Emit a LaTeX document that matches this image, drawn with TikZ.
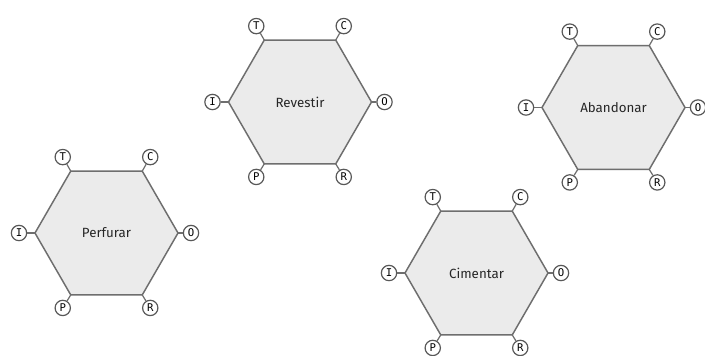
\documentclass[tikz,border=0pt]{standalone}
\usepackage{fontspec}
\setmainfont{Fira Sans}
\newfontfamily\portfont{DejaVu Sans Mono}
\usetikzlibrary{shapes.geometric}

\definecolor{edgegray}{HTML}{6E6E6E}
\definecolor{fillgray}{HTML}{EBEBEB}
\definecolor{textgray}{HTML}{262626}

\tikzset{
  activity/.style={regular polygon, regular polygon sides=6, minimum size=143*0.75pt,
    inner sep=0pt, outer sep=0pt, draw=edgegray, fill=fillgray, line width=1.1pt,
    text=textgray, font=\fontsize{10}{12}\selectfont},
  port/.style={circle, draw=edgegray!80!black, fill=white, line width=0.9pt, inner sep=0pt,
    minimum size=11.5pt, text=black, font=\portfont\fontsize{8}{9}\selectfont},
  portline/.style={draw=edgegray, line width=0.9pt}
}

% an activity hexagon with its six ports T, C, O, R, P, I
\newcommand\activity[3]{%
  \node[activity] (#1) at (#2) {#3};
  \node[port] (#1-T) at ([shift={(-8,-14)}]#1.120) {T};
  \node[port] (#1-C) at ([shift={(8,-14)}]#1.60) {C};
  \node[port] (#1-O) at ([shift={(13,0)}]#1.0) {O};
  \node[port] (#1-R) at ([shift={(8,13)}]#1.300) {R};
  \node[port] (#1-P) at ([shift={(-8,13)}]#1.240) {P};
  \node[port] (#1-I) at ([shift={(-16,0)}]#1.180) {I};
  \draw[portline] (#1.120) -- (#1-T);
  \draw[portline] (#1.60) -- (#1-C);
  \draw[portline] (#1.0) -- (#1-O);
  \draw[portline] (#1.300) -- (#1-R);
  \draw[portline] (#1.240) -- (#1-P);
  \draw[portline] (#1.180) -- (#1-I);
}

\begin{document}
\begin{tikzpicture}[x=0.75pt,y=-0.75pt]
  \useasboundingbox[fill=white] (0,0) rectangle (705,355);
  \activity{perfurar}{106.5,233}{Perfurar}
  \activity{revestir}{300,102}{Revestir}
  \activity{abandonar}{613.5,107.5}{Abandonar}
  \activity{cimentar}{476.5,273}{Cimentar}
\end{tikzpicture}
\end{document}
